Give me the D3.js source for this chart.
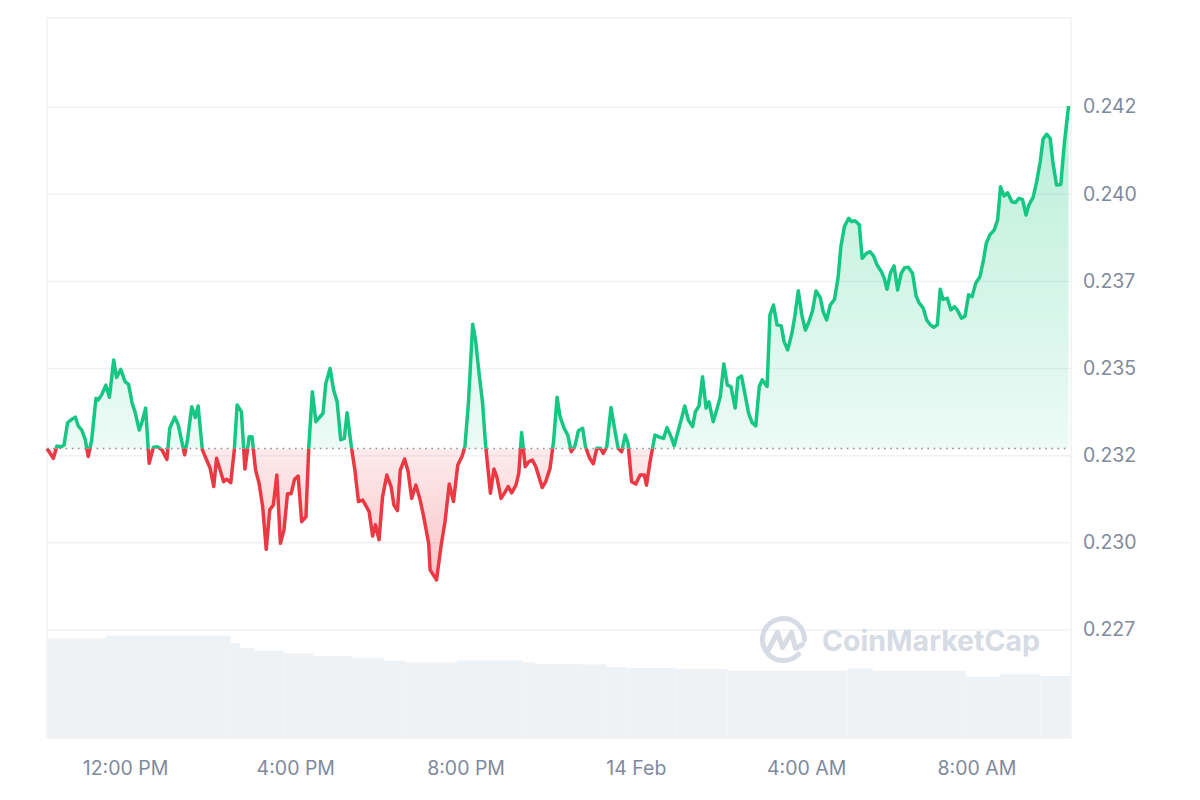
<!DOCTYPE html>
<html>
<head>
<meta charset="utf-8">
<script src="https://cdn.jsdelivr.net/npm/d3@7"></script>
<style>
  html, body { margin: 0; padding: 0; background: #ffffff; }
  svg { display: block; }
  .tick text { font-family: Inter, "Noto Sans", sans-serif; }
</style>
</head>
<body>
<div id="chart"></div>
<script>
// ---------- DATA ----------
const startTime = new Date(2025, 1, 13, 10, 10); // 13 Feb, 10:10 AM
// minutes after start for each price sample
const minutes = [0,9,14,20,24,29,35,40,44,49,54,58,63,69,72,77,83,88,94,98,104,110,115,120,124,130,134,139,144,150,156,162,169,173,180,185,194,198,204,209,213,219,225,230,235,239,249,253,259,264,268,274,279,285,289,294,299,304,309,314,319,324,329,334,339,344,349,354,359,365,369,374,379,383,389,393,399,404,409,414,419,423,429,434,439,445,449,454,459,463,468,473,479,485,489,494,498,504,509,514,520,526,531,538,540,549,556,561,567,573,579,585,589,594,600,604,609,614,618,625,630,634,640,646,650,655,661,665,669,674,679,684,689,694,698,703,709,714,719,723,729,734,739,744,749,755,759,765,770,775,780,784,789,795,800,805,810,815,819,824,830,836,842,845,850,857,864,869,874,880,884,890,895,899,904,910,914,919,924,929,933,939,944,949,954,959,964,970,974,979,984,989,994,999,1004,1008,1015,1019,1024,1029,1035,1039,1044,1050,1054,1059,1064,1069,1074,1079,1084,1090,1094,1099,1104,1110,1115,1119,1124,1130,1134,1139,1145,1149,1155,1160,1165,1170,1176,1180,1184,1189,1194,1199,1204,1209,1214,1220,1225,1229,1235,1240,1245,1250,1255,1259,1263,1269,1274,1279,1283,1289,1294,1299,1304,1309,1315,1320,1324,1329,1335,1340,1344,1349,1354,1360,1365,1370,1375,1380,1384,1390,1395,1400,1404,1409,1414,1418,1423,1429,1434,1440];
const prices = [0.23269,0.23241,0.23276,0.23274,0.23279,0.23343,0.23353,0.23359,0.23334,0.23322,0.23294,0.23246,0.23294,0.23413,0.23408,0.23423,0.23451,0.23416,0.23523,0.23473,0.23496,0.23461,0.23453,0.23399,0.23375,0.23322,0.23346,0.23385,0.23227,0.23273,0.23274,0.23265,0.23238,0.23327,0.23359,0.23337,0.23251,0.23294,0.23389,0.23358,0.23391,0.23265,0.23236,0.23212,0.23160,0.23241,0.23174,0.23181,0.23171,0.23265,0.23394,0.23375,0.23210,0.23303,0.23303,0.23207,0.23169,0.23102,0.22980,0.23093,0.23107,0.23193,0.22997,0.23035,0.23139,0.23139,0.23181,0.23190,0.23059,0.23073,0.23274,0.23432,0.23346,0.23356,0.23370,0.23456,0.23499,0.23437,0.23403,0.23294,0.23298,0.23372,0.23274,0.23207,0.23117,0.23121,0.23107,0.23088,0.23018,0.23050,0.23007,0.23131,0.23193,0.23160,0.23107,0.23091,0.23207,0.23239,0.23203,0.23126,0.23164,0.23121,0.23073,0.22997,0.22921,0.22892,0.22997,0.23059,0.23167,0.23117,0.23222,0.23246,0.23274,0.23399,0.23626,0.23581,0.23485,0.23399,0.23284,0.23141,0.23210,0.23188,0.23126,0.23145,0.23160,0.23142,0.23164,0.23198,0.23315,0.23217,0.23231,0.23236,0.23217,0.23184,0.23157,0.23174,0.23212,0.23289,0.23416,0.23362,0.23327,0.23308,0.23260,0.23276,0.23320,0.23327,0.23274,0.23241,0.23225,0.23270,0.23270,0.23255,0.23274,0.23387,0.23327,0.23270,0.23260,0.23308,0.23284,0.23174,0.23167,0.23193,0.23193,0.23164,0.23231,0.23308,0.23301,0.23298,0.23329,0.23301,0.23277,0.23322,0.23360,0.23391,0.23351,0.23332,0.23375,0.23391,0.23475,0.23385,0.23403,0.23346,0.23380,0.23418,0.23512,0.23451,0.23447,0.23385,0.23471,0.23477,0.23423,0.23370,0.23343,0.23334,0.23447,0.23466,0.23447,0.23652,0.23681,0.23624,0.23621,0.23576,0.23552,0.23600,0.23647,0.23722,0.23652,0.23609,0.23633,0.23664,0.23721,0.23702,0.23662,0.23638,0.23681,0.23697,0.23758,0.23848,0.23906,0.23930,0.23920,0.23923,0.23911,0.23815,0.23829,0.23834,0.23822,0.23796,0.23777,0.23758,0.23726,0.23774,0.23793,0.23724,0.23772,0.23788,0.23789,0.23772,0.23707,0.23688,0.23672,0.23638,0.23624,0.23617,0.23624,0.23726,0.23697,0.23700,0.23667,0.23676,0.23667,0.23643,0.23649,0.23710,0.23705,0.23743,0.23762,0.23810,0.23858,0.23882,0.23896,0.23925,0.24020,0.23994,0.24003,0.23977,0.23975,0.23987,0.23984,0.23939,0.23968,0.23990,0.24035,0.24092,0.24157,0.24171,0.24159,0.24088,0.24025,0.24027,0.24145,0.24252];

// volume (relative units), step segments: start minute, end minute, value
const volStart = [0,83,259,272,293,335,375,430,475,505,578,670,688,751,789,817,887,959,1128,1164,1295,1343,1400];
const volEnd   = [83,259,272,293,335,375,430,475,505,578,670,688,751,789,817,887,959,1128,1164,1295,1343,1400,1443];
const volValue = [99.7,102.3,95,90,87.3,84.7,82,79.7,77.3,75.7,77.7,75.7,74,73.7,71,70,69,67.3,69.7,67.3,61.3,64,62];

// axis ticks
const yTickValues = [0.2425,0.2400,0.2375,0.2350,0.2325,0.2300,0.2275];
const yTickLabels = ["0.242","0.240","0.237","0.235","0.232","0.230","0.227"];
const xTickTimes = [new Date(2025,1,13,12,0), new Date(2025,1,13,16,0), new Date(2025,1,13,20,0),
                    new Date(2025,1,14,0,0), new Date(2025,1,14,4,0), new Date(2025,1,14,8,0)];
const xTickLabels = ["12:00 PM","4:00 PM","8:00 PM","14 Feb","4:00 AM","8:00 AM"];

// ---------- CHART ----------
const W = 1200, H = 800;
const plot = {left: 47, right: 1071, top: 18, bottom: 738};
const GREEN = "#16c784", RED = "#ea3943", LABEL = "#808a9d", GRID = "#eff2f5";

const data = minutes.map((m, i) => ({t: new Date(startTime.getTime() + m * 60000), p: prices[i]}));
const baseline = prices[0];

const x = d3.scaleTime()
  .domain([startTime, new Date(startTime.getTime() + 1440 * 60000)])
  .range([47, 1068.6]);
const y = d3.scaleLinear().domain([0.2275, 0.2425]).range([629.4, 106.7]);
const yVol = d3.scaleLinear().domain([0, 100]).range([plot.bottom, plot.bottom - 100]);

const svg = d3.select("#chart").append("svg").attr("width", W).attr("height", H);
svg.append("rect").attr("width", W).attr("height", H).attr("fill", "#fff");

const defs = svg.append("defs");
const by = y(baseline);
const gGrad = defs.append("linearGradient").attr("id", "gGrad")
  .attr("gradientUnits", "userSpaceOnUse").attr("x1", 0).attr("x2", 0)
  .attr("y1", y(d3.max(prices))).attr("y2", by);
gGrad.append("stop").attr("offset", 0).attr("stop-color", GREEN).attr("stop-opacity", 0.3);
gGrad.append("stop").attr("offset", 1).attr("stop-color", GREEN).attr("stop-opacity", 0.08);
const rGrad = defs.append("linearGradient").attr("id", "rGrad")
  .attr("gradientUnits", "userSpaceOnUse").attr("x1", 0).attr("x2", 0)
  .attr("y1", by).attr("y2", y(d3.min(prices)));
rGrad.append("stop").attr("offset", 0).attr("stop-color", RED).attr("stop-opacity", 0.1);
rGrad.append("stop").attr("offset", 1).attr("stop-color", RED).attr("stop-opacity", 0.3);

defs.append("clipPath").attr("id", "above").append("rect")
  .attr("x", 0).attr("y", 0).attr("width", W).attr("height", by);
defs.append("clipPath").attr("id", "below").append("rect")
  .attr("x", 0).attr("y", by).attr("width", W).attr("height", H - by);

// frame
svg.append("rect").attr("x", plot.left).attr("y", plot.top)
  .attr("width", plot.right - plot.left).attr("height", plot.bottom - plot.top)
  .attr("fill", "none").attr("stroke", GRID).attr("stroke-width", 1.5);

// volume
svg.append("g").selectAll("rect").data(volValue).join("rect")
  .attr("x", (d, i) => x(new Date(startTime.getTime() + volStart[i] * 60000)))
  .attr("width", (d, i) => Math.min(plot.right, x(new Date(startTime.getTime() + volEnd[i] * 60000))) - x(new Date(startTime.getTime() + volStart[i] * 60000)))
  .attr("y", d => yVol(d))
  .attr("height", d => plot.bottom - yVol(d))
  .attr("fill", GRID);

// gridlines + y axis labels
const yAxis = d3.axisRight(y).tickValues(yTickValues)
  .tickFormat((d, i) => yTickLabels[i])
  .tickSize(-(plot.right - plot.left)).tickPadding(12);
const gy = svg.append("g").attr("transform", `translate(${plot.right},0)`).call(yAxis);
gy.select(".domain").remove();
gy.selectAll(".tick line").attr("stroke", GRID).attr("stroke-width", 1.5);
gy.selectAll(".tick text").attr("fill", LABEL).attr("font-size", 19.5).attr("x", 12);

// watermark
const wm = svg.append("g").attr("fill", "none").attr("stroke", "#d6dbe4").attr("stroke-width", 5)
  .attr("stroke-linecap", "round").attr("stroke-linejoin", "round");
const lc = {x: 783.5, y: 639.5, r: 21};
wm.append("path").attr("d", d3.arc()({innerRadius: lc.r, outerRadius: lc.r, startAngle: 2.35, endAngle: 2.35 + 2 * Math.PI - 0.75}))
  .attr("transform", `translate(${lc.x},${lc.y})`);
wm.append("path").attr("d", `M${lc.x-15},${lc.y+10} L${lc.x-6},${lc.y-7} L${lc.x-1},${lc.y+8} L${lc.x+8},${lc.y-7} L${lc.x+12},${lc.y+9} L${lc.x+19},${lc.y+5}`);
svg.append("text").attr("x", 822).attr("y", 651).attr("fill", "#d6dbe4")
  .attr("font-family", "Inter, 'Noto Sans', sans-serif").attr("font-weight", 700)
  .attr("font-size", 28.5).text("CoinMarketCap");

// areas
const area = d3.area().x(d => x(d.t)).y0(by).y1(d => y(d.p));
svg.append("path").datum(data).attr("d", area).attr("fill", "url(#gGrad)").attr("clip-path", "url(#above)");
svg.append("path").datum(data).attr("d", area).attr("fill", "url(#rGrad)").attr("clip-path", "url(#below)");

// baseline dotted
svg.append("line").attr("x1", plot.left).attr("x2", plot.right - 2).attr("y1", by).attr("y2", by)
  .attr("stroke", "#8a919f").attr("stroke-width", 1.6).attr("stroke-dasharray", "1.6,4.6");

// lines
const line = d3.line().x(d => x(d.t)).y(d => y(d.p));
svg.append("path").datum(data).attr("d", line).attr("fill", "none").attr("stroke", GREEN)
  .attr("stroke-width", 3.5).attr("stroke-linejoin", "round").attr("clip-path", "url(#above)");
svg.append("path").datum(data).attr("d", line).attr("fill", "none").attr("stroke", RED)
  .attr("stroke-width", 3.5).attr("stroke-linejoin", "round").attr("clip-path", "url(#below)");

// x axis
const xAxis = d3.axisBottom(x).tickValues(xTickTimes)
  .tickFormat((d, i) => xTickLabels[i]).tickSize(0).tickPadding(0);
const gx = svg.append("g").attr("transform", `translate(0,${plot.bottom})`).call(xAxis);
gx.select(".domain").remove();
gx.selectAll(".tick text").attr("fill", LABEL).attr("font-size", 19.5).attr("dy", 0).attr("y", 37);
</script>
</body>
</html>
